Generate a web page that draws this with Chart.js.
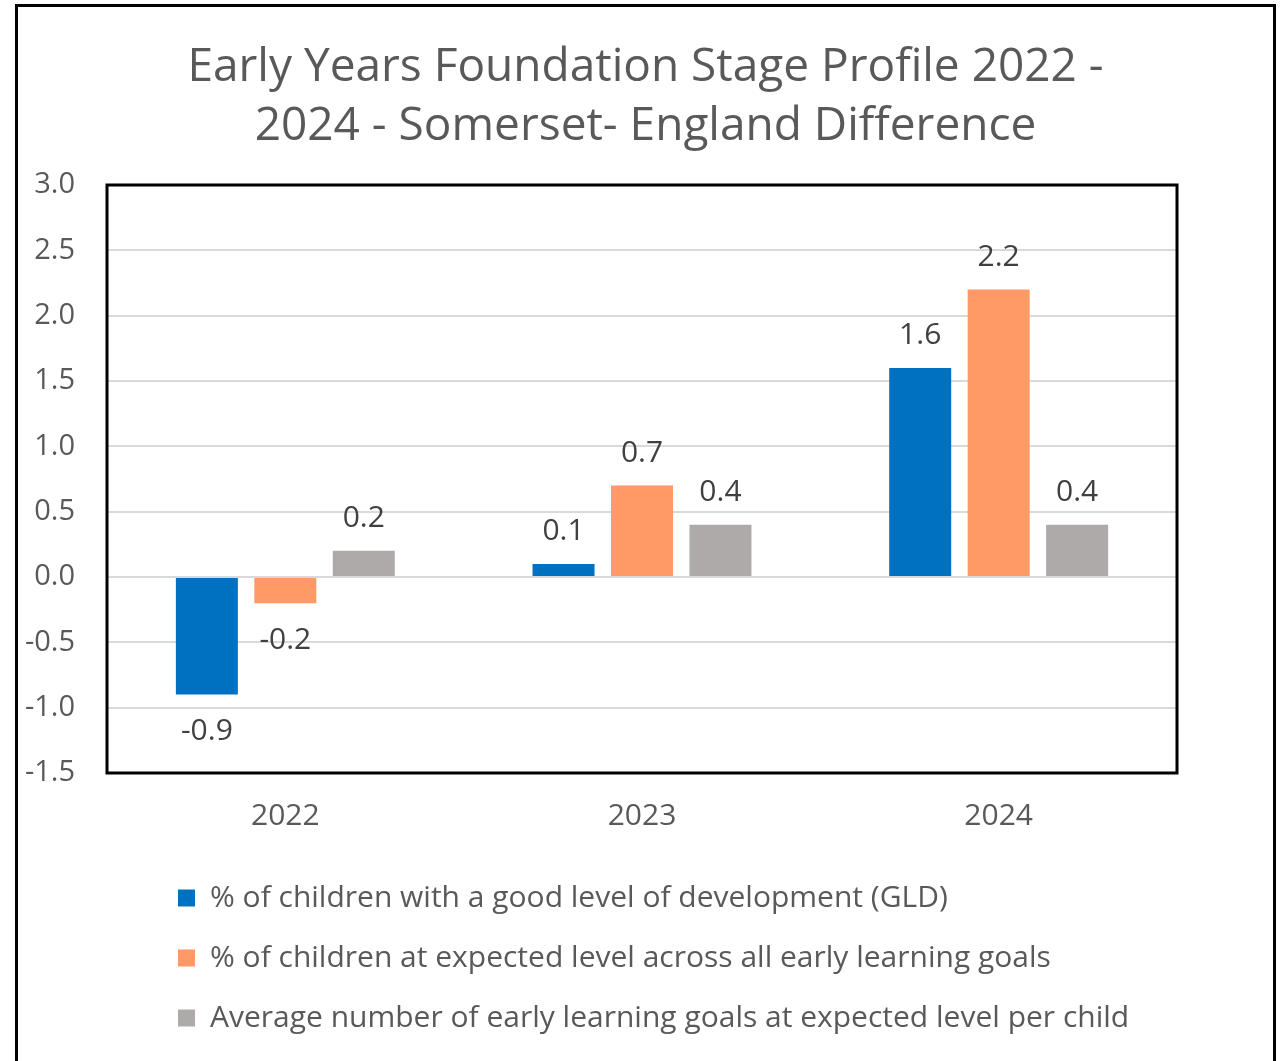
<!DOCTYPE html>
<html>
<head>
<meta charset="utf-8">
<script src="https://cdn.jsdelivr.net/npm/chart.js@4.4.1/dist/chart.umd.min.js"></script>
<style>
  html, body { margin: 0; padding: 0; background: #fff; overflow: hidden; }
  #frame {
    position: absolute; left: 15px; top: 4px;
    width: 1255px; height: 1100px;
    border: 3px solid #000;
  }
  #chart { display: block; }
</style>
</head>
<body>
<div id="frame"><canvas id="chart" width="1255" height="1036"></canvas></div>
<script>
const years = ['2022', '2023', '2024'];
const gldValues = [-0.9, 0.1, 1.6];
const expectedValues = [-0.2, 0.7, 2.2];
const avgGoalsValues = [0.2, 0.4, 0.4];
const seriesNames = [
  '% of children with a good level of development (GLD)',
  '% of children at expected level across all early learning goals',
  'Average number of early learning goals at expected level per child'
];
const titleLines = ['Early Years Foundation Stage Profile 2022 -', '2024 - Somerset- England Difference'];

const FONT = '"Open Sans", Lato, sans-serif';

// value labels at the end of each bar
const barLabels = {
  id: 'barLabels',
  afterDatasetsDraw(chart) {
    const ctx = chart.ctx;
    ctx.save();
    ctx.font = '30px ' + FONT;
    ctx.fillStyle = '#404040';
    ctx.textAlign = 'center';
    ctx.textBaseline = 'middle';
    chart.data.datasets.forEach((ds, i) => {
      chart.getDatasetMeta(i).data.forEach((bar, j) => {
        const v = ds.data[j];
        const y = v >= 0 ? bar.y - 32 : bar.y + 37;
        ctx.fillText(v.toFixed(1), bar.x, y);
      });
    });
    ctx.restore();
  }
};

// black box round the plot area; title centred on whole canvas; legend lined up
const plotBox = {
  id: 'plotBox',
  afterLayout(chart) {
    chart.titleBlock.left = 0;
    chart.titleBlock.right = chart.width;
    chart.legend.left = chart.chartArea.left + 41;
  },
  beforeDatasetsDraw(chart) {
    const a = chart.chartArea;
    const ctx = chart.ctx;
    ctx.save();
    ctx.strokeStyle = '#000';
    ctx.lineWidth = 3;
    ctx.strokeRect(a.left, a.top, a.right - a.left, a.bottom - a.top);
    ctx.restore();
  }
};

new Chart(document.getElementById('chart'), {
  type: 'bar',
  data: {
    labels: years,
    datasets: [
      { label: seriesNames[0], data: gldValues, backgroundColor: '#0070C0' },
      { label: seriesNames[1], data: expectedValues, backgroundColor: '#FF9966' },
      { label: seriesNames[2], data: avgGoalsValues, backgroundColor: '#AEAAAA' }
    ]
  },
  options: {
    responsive: false,
    animation: false,
    categoryPercentage: 0.66,
    barPercentage: 0.79,
    layout: { padding: { left: 0, right: 96, top: 0, bottom: 0 } },
    plugins: {
      title: {
        display: true,
        text: titleLines,
        color: '#595959',
        font: { family: FONT, size: 46, weight: 'normal', lineHeight: '59px' },
        padding: { top: 31, bottom: 29 }
      },
      legend: {
        position: 'bottom',
        align: 'start',
        fullSize: false,
        labels: {
          color: '#595959',
          font: { family: FONT, size: 30 },
          boxWidth: 17,
          boxHeight: 17,
          padding: 30
        }
      },
      tooltip: { enabled: false }
    },
    scales: {
      x: {
        grid: { display: false, drawTicks: false },
        border: { display: false },
        ticks: { color: '#595959', font: { family: FONT, size: 30 }, padding: 25 },
        afterFit(scale) { scale.height = 80; }
      },
      y: {
        min: -1.5,
        max: 3.0,
        grid: { color: '#D9D9D9', lineWidth: 2, drawTicks: false },
        border: { display: false },
        ticks: {
          stepSize: 0.5,
          color: '#595959',
          font: { family: FONT, size: 29 },
          padding: 32,
          callback: v => v.toFixed(1)
        },
        afterFit(scale) { scale.width = 89; }
      }
    }
  },
  plugins: [barLabels, plotBox]
});
</script>
</body>
</html>
